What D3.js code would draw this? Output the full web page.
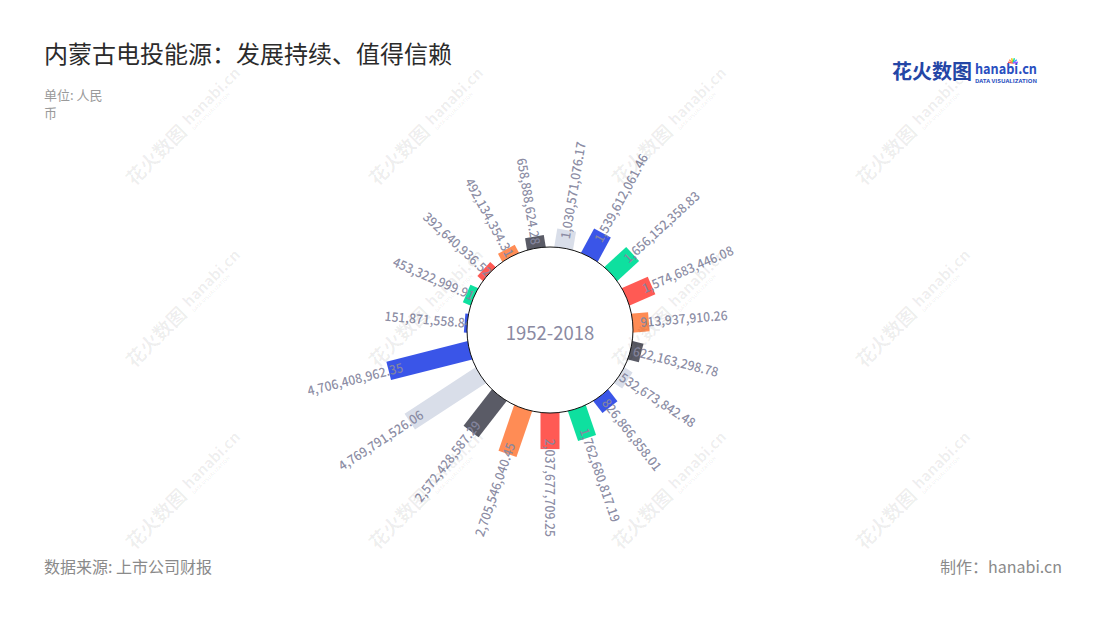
<!DOCTYPE html>
<html>
<head>
<meta charset="utf-8">
<script src="https://cdn.jsdelivr.net/npm/d3@7/dist/d3.min.js"></script>
<style>
  html, body { margin: 0; padding: 0; background: #fff; }
  svg { display: block; }
  text { font-family: "Noto Sans CJK SC", "Noto Sans", sans-serif; }
</style>
</head>
<body>
<svg id="chart" width="1100" height="620"></svg>
<script>
// ---- data ----
const title = "内蒙古电投能源：发展持续、值得信赖";
const unitLines = ["单位: 人民", "币"];
const centerLabel = "1952-2018";
const source = "数据来源: 上市公司财报";
const credit = "制作：hanabi.cn";
const categories = ["1","2","3","4","5","6","7","8","9","10","11","12","13","14","15","16","17","18","19"];
const values = [151871558.84, 453322999.91, 392640936.52, 492134354.31, 658888624.28,
                1030571076.17, 1539612061.46, 1656152358.83, 1574683446.08, 913937910.26,
                622163298.78, 532673842.48, 826866858.01, 1762680817.19, 2037677709.25,
                2705546040.45, 2572428587.29, 4769791526.06, 4706408962.35];
const palette = ["#3a55e8", "#0ee09f", "#ff5a54", "#ff8c55", "#5a5b66", "#d9dee9"];

// ---- layout ----
const W = 1100, H = 620;
const cx = 550, cy = 330;
const innerR = 83, maxLen = 84.5, barW = 19;
const svg = d3.select("#chart");

const band = 2 * Math.PI / categories.length;
const startAngle = Math.PI - 14.5 * band;
const angle = d3.scaleBand().domain(categories).range([startAngle, startAngle + 2 * Math.PI]).padding(0);
const radius = d3.scaleLinear().domain([0, d3.max(values)]).range([innerR, innerR + maxLen]);
const color = d3.scaleOrdinal().domain(categories).range(palette);
const fmt = d3.format(",.2f");

const data = categories.map((c, i) => ({ c, v: values[i] }));

const g = svg.append("g").attr("transform", `translate(${cx},${cy})`);

const deg = d => {
  const a = (angle(d.c) + angle.bandwidth() / 2) * 180 / Math.PI;
  return ((a % 360) + 360) % 360;
};
const outward = d => deg(d) <= 180.001;

// bars
g.selectAll("rect.bar").data(data).join("rect")
  .attr("class", "bar")
  .attr("transform", d => `rotate(${deg(d) - 90})`)
  .attr("x", 0)
  .attr("y", -barW / 2)
  .attr("width", d => radius(d.v))
  .attr("height", barW)
  .attr("fill", d => color(d.c));

// labels
const sx = 0.94;
const labelR = d => {
  const len = radius(d.v) - innerR;
  return radius(d.v) - (7 + 0.09 * len);
};
g.selectAll("text.lbl").data(data).join("text")
  .attr("class", "lbl")
  .attr("transform", d => {
    const a = deg(d);
    return (outward(d) ? `rotate(${a - 90})` : `rotate(${a - 270})`) + ` scale(${sx},1)`;
  })
  .attr("x", d => (outward(d) ? 1 : -1) * labelR(d) / sx)
  .attr("y", 0)
  .attr("dy", "0.35em")
  .attr("text-anchor", d => outward(d) ? "start" : "end")
  .attr("font-size", 13)
  .attr("font-weight", 500)
  .attr("fill", "#8687a0")
  .attr("fill-opacity", 0.95)
  .text(d => fmt(d.v));

// center circle
g.append("circle").attr("r", innerR).attr("fill", "#fff").attr("stroke", "#111").attr("stroke-width", 1);
g.append("text").attr("x", 0).attr("y", 10).attr("text-anchor", "middle")
  .attr("font-size", 18.5).attr("fill", "#8a8aa2").text(centerLabel);

// title and notes
svg.append("text").attr("x", 44).attr("y", 63).attr("font-size", 24).attr("fill", "#2b2b2b").text(title);
const unit = svg.append("text").attr("font-size", 13).attr("fill", "#9a9a9a");
unit.selectAll("tspan").data(unitLines).join("tspan")
  .attr("x", 44).attr("y", (d, i) => 100 + i * 17.5).text(d => d);
svg.append("text").attr("x", 44).attr("y", 573).attr("font-size", 16).attr("fill", "#8a8a8a").text(source);
svg.append("text").attr("x", 1062).attr("y", 573).attr("text-anchor", "end").attr("font-size", 16).attr("fill", "#8a8a8a").text(credit);

// logo
const logo = svg.append("g");
logo.append("text").attr("x", 892).attr("y", 79).attr("font-size", 20).attr("font-weight", 700)
  .attr("fill", "#2446a6").text("花火数图");
logo.append("text").attr("x", 975).attr("y", 73.5).attr("font-size", 14).attr("font-weight", 600)
  .attr("fill", "#2a4fc0").attr("textLength", 62).attr("lengthAdjust", "spacingAndGlyphs").text("hanabi.cn");
logo.append("text").attr("x", 975).attr("y", 82.5).attr("font-size", 5).attr("font-weight", 700)
  .attr("fill", "#2a4fc0").attr("textLength", 62).attr("lengthAdjust", "spacingAndGlyphs").text("DATA VISUALIZATION");
const sparkColors = ["#ff5a54", "#ff8c55", "#f5c400", "#0ee09f", "#3a9bff", "#a05cff"];
logo.selectAll("line.sp").data(sparkColors).join("line")
  .attr("x1", 1013).attr("y1", 63)
  .attr("x2", (d, i) => 1013 + 5 * Math.cos(Math.PI * (1.05 + i * 0.18)))
  .attr("y2", (d, i) => 63 + 5 * Math.sin(Math.PI * (1.05 + i * 0.18)))
  .attr("stroke", d => d).attr("stroke-width", 1.4);

// watermarks
const wmX = [183, 426, 669, 913];
const wmY = [128, 310, 492];
const wm = svg.append("g").attr("pointer-events", "none");
wmY.forEach(y => wmX.forEach(x => {
  const w = wm.append("g").attr("transform", `translate(${x},${y}) rotate(-45)`).attr("fill", "#000").attr("fill-opacity", 0.065);
  w.append("text").attr("x", -76).attr("y", 7).attr("font-size", 19).attr("font-weight", 700).text("花火数图");
  w.append("text").attr("x", 6).attr("y", 3).attr("font-size", 15).attr("font-weight", 700).text("hanabi.cn");
  w.append("text").attr("x", 6).attr("y", 10).attr("font-size", 5).attr("font-weight", 700).text("DATA VISUALIZATION");
}));
</script>
</body>
</html>
